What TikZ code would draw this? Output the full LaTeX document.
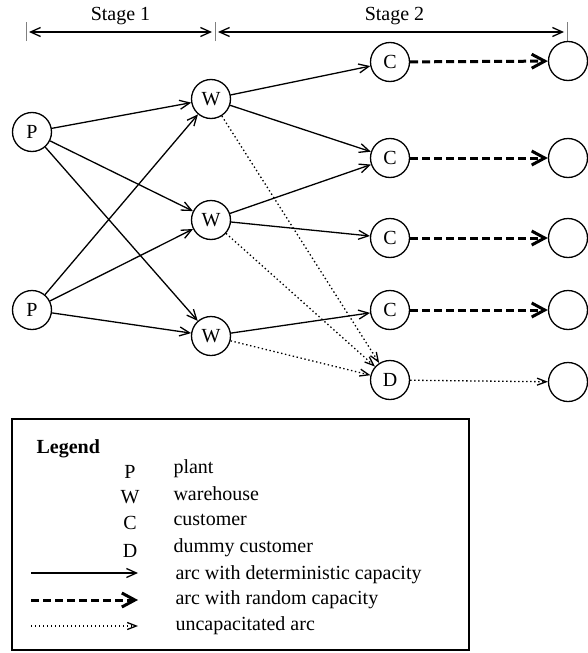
\documentclass[tikz,border=0pt]{standalone}
\usepackage{fontspec}
\setmainfont{Liberation Serif}
\usetikzlibrary{arrows.meta}

\begin{document}
\begin{tikzpicture}[x=1pt,y=-1pt,
    every node/.style={font=\fontsize{20}{24}\selectfont},
    site/.style={draw,circle,line width=1.3pt,minimum size=39pt,inner sep=0pt},
    det/.style={line width=1.3pt,-{Straight Barb[length=10pt,width=9pt]}},
    rnd/.style={line width=3pt,dash pattern=on 8pt off 4pt,-{Straight Barb[length=13pt,width=14pt]}},
    unc/.style={line width=1.3pt,dash pattern=on 1.4pt off 2.6pt,-{Straight Barb[length=9pt,width=7pt]}},
    tick/.style={gray,line width=0.7pt}]

  \useasboundingbox (0,0) rectangle (587,653);

  % Stages
  \coordinate (s0) at (26,32);
  \coordinate (s1) at (215,32);
  \coordinate (s2) at (567,32);
  \foreach \s in {s0,s1,s2}
    \draw[tick] ([yshift=-9pt]\s) -- ([yshift=10pt]\s);
  \draw[line width=1.3pt,{Straight Barb[length=10pt,width=9pt]}-{Straight Barb[length=10pt,width=9pt]},shorten <=3pt,shorten >=3pt]
    (s0) -- node[above=3pt] (stage1) {Stage 1} (s1);
  \draw[line width=1.3pt,{Straight Barb[length=10pt,width=9pt]}-{Straight Barb[length=10pt,width=9pt]},shorten <=3pt,shorten >=3pt]
    (s1) -- node[above=3pt,pos=0.51] (stage2) {Stage 2} (s2);

  % Plants, warehouses, customers
  \node[site] (P1) at (32,132) {P};
  \node[site] (P2) at (32,310) {P};
  \foreach \y [count=\i] in {99,220,336}
    \node[site] (W\i) at (211,\y) {W};
  \foreach \y [count=\i] in {62,158,238,310}
    \node[site] (C\i) at (390,\y) {C};
  \node[site] (D) at (390,380) {D};
  \foreach \y [count=\i] in {61,158,238,310,382}
    \node[site] (R\i) at (568,\y) {};

  % Stage 1 arcs
  \foreach \p in {1,2}
    \foreach \w in {1,2,3}
      \draw[det] (P\p) -- (W\w);

  % Stage 2 arcs
  \draw[det] (W1) -- (C1);
  \draw[det] (W1) -- (C2);
  \draw[det] (W2) -- (C2);
  \draw[det] (W2) -- (C3);
  \draw[det] (W3) -- (C4);
  \foreach \w in {1,2,3}
    \draw[unc] (W\w) -- (D);
  \foreach \c in {1,...,4}
    \draw[rnd] (C\c) -- (R\c);
  \draw[unc] (D) -- (R5);

  % Legend
  \draw[line width=1.3pt] (12,419) rectangle (469,650);
  \node[anchor=west,font=\fontsize{20}{24}\selectfont\bfseries] (legend) at (33,449) {Legend};
  \foreach \l/\y/\t in {P/472/plant,W/497/warehouse,C/523/customer,D/551/dummy customer}
    {\node (key\l) at (130,\y) {\l};
     \node[anchor=west] (txt\l) at (170,\y-3) {\t};}
  \foreach \n/\y in {det/573,rnd/600,unc/626}
    {\coordinate (\n a) at (31,\y);
     \coordinate (\n b) at (138,\y);}
  \draw[det] (deta) -- (detb);
  \draw[rnd] (rnda) -- (rndb);
  \draw[unc] (unca) -- (uncb);
  \node[anchor=west] (txtdet) at (172,575) {arc with deterministic capacity};
  \node[anchor=west] (txtrnd) at (172,600) {arc with random capacity};
  \node[anchor=west] (txtunc) at (172,626) {uncapacitated arc};

\end{tikzpicture}
\end{document}
